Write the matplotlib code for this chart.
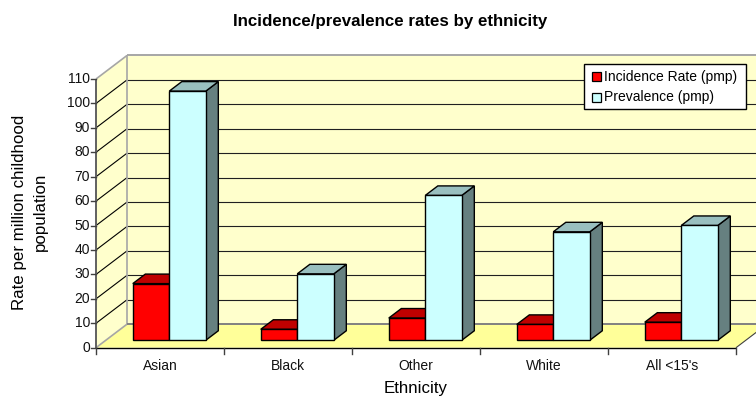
import matplotlib
matplotlib.use('Agg')
import matplotlib.pyplot as plt
from matplotlib.patches import Polygon, Rectangle

plt.rcParams['font.family'] = ['Liberation Sans', 'DejaVu Sans']

# chart data
ethnicity = ['Asian', 'Black', 'Other', 'White', "All <15's"]
incidence = [23.2, 4.5, 9.1, 6.5, 7.4]
prevalence = [102, 27.2, 59.3, 44.4, 47]
y_ticks = list(range(0, 111, 10))
series_names = ['Incidence Rate (pmp)', 'Prevalence (pmp)']

# oblique projection: how far the back wall sits from the front plane
depth_x = 31 / 128
depth_y = 9.63

fig = plt.figure(figsize=(7.56, 3.96), dpi=100)
ax = fig.add_axes([96 / 756, (396 - 347.7) / 396, 640 / 756, 268.7 / 396])
ax.set_xlim(0, 5)
ax.set_ylim(0, 110)
ax.axis('off')


def proj(x, y, d):
    return (x + d * depth_x, y + d * depth_y)


def face(points, color, edge='none', lw=0.0, z=1):
    ax.add_patch(Polygon(points, closed=True, facecolor=color, edgecolor=edge,
                         linewidth=lw, clip_on=False, zorder=z, joinstyle='miter'))


def line(a, b, color, lw, z=2):
    ax.plot([a[0], b[0]], [a[1], b[1]], color=color, lw=lw, clip_on=False,
            zorder=z, solid_capstyle='butt')


def bar3d(x0, x1, h, front, top, side, d0=0.315, d1=0.72):
    z = 5
    fbl, fbr = proj(x0, 0, d0), proj(x1, 0, d0)
    ftl, ftr = proj(x0, h, d0), proj(x1, h, d0)
    btl, btr = proj(x0, h, d1), proj(x1, h, d1)
    bbr = proj(x1, 0, d1)
    face([fbr, ftr, btr, bbr], side, 'black', 1.0, z)
    face([ftl, ftr, btr, btl], top, 'black', 1.0, z)
    face([fbl, fbr, ftr, ftl], front, 'black', 1.0, z)


def legend_rect(x0, y0, x1, y1, color, lw, z):
    # corners given in pixels from the top left of the figure
    fig.add_artist(Rectangle((x0 / 756, 1 - y1 / 396), (x1 - x0) / 756, (y1 - y0) / 396,
                             transform=fig.transFigure, facecolor=color, edgecolor='black',
                             linewidth=lw, zorder=z))


# walls and floor
wall = '#FFFFCC'
face([proj(0, 0, 1), proj(5, 0, 1), proj(5, 110, 1), proj(0, 110, 1)], wall)
face([proj(0, 0, 0), proj(0, 0, 1), proj(0, 110, 1), proj(0, 110, 0)], wall)
face([proj(0, 0, 0), proj(5, 0, 0), proj(5, 0, 1), proj(0, 0, 1)], '#FFFF99')

# gridlines run along the side wall and across the back wall
for v in y_ticks[1:-1]:
    line(proj(0, v, 0), proj(0, v, 1), 'black', 0.8)
    line(proj(0, v, 1), proj(5, v, 1), '#202020', 0.8)

line(proj(0, 110, 0), proj(0, 110, 1), '#A6A6A6', 1.2)
line(proj(0, 110, 1), proj(5, 110, 1), '#A6A6A6', 1.4)
line(proj(0, 0, 1), proj(0, 110, 1), '#A6A6A6', 1.2)
line(proj(0, 0, 0), proj(0, 0, 1), '#A6A6A6', 1.2)
line(proj(0, 0, 1), proj(5, 0, 1), '#808080', 1.4)
line(proj(5, 0, 0), proj(5, 0, 1), '#404040', 0.8)

# axes lines and ticks
line((0, 0), (5, 0), 'black', 1.0, 3)
line((0, 0), (0, 110), '#606060', 1.4, 3)
for v in y_ticks:
    ax.plot([-5 / 128, 0], [v, v], color='#404040', lw=1.0, clip_on=False, zorder=3)
    ax.text(-6 / 128, v, str(v), ha='right', va='center', fontsize=10, color='#111111')
for i in range(6):
    ax.plot([i, i], [0, -6.5 / 24.43 * 10], color='#404040', lw=1.0, clip_on=False, zorder=3)
for i, name in enumerate(ethnicity):
    ax.text(i + 0.5, -7.3, name, ha='center', va='center', fontsize=10, color='#111111')

# bars, left to right so the nearer faces overlap correctly
bar_w = 36.5 / 128
for i in range(len(ethnicity)):
    start = i + 27 / 128
    bar3d(start, start + bar_w, incidence[i], '#FF0000', '#BF0000', '#800000')
    bar3d(start + bar_w, start + 2 * bar_w, prevalence[i], '#CCFFFF', '#99BFBF', '#668080')

# titles
fig.text(390.5 / 756, 1 - 21.5 / 396, 'Incidence/prevalence rates by ethnicity',
         ha='center', va='center', fontsize=12.2, fontweight='bold')
fig.text(416 / 756, 1 - 389 / 396, 'Ethnicity', ha='center', va='center', fontsize=12.2)
fig.text(30 / 756, 1 - 212 / 396, 'Rate per million childhood\npopulation', rotation=90,
         ha='center', va='center', fontsize=12.2, linespacing=1.5, multialignment='center')

# legend box
legend_rect(583.5, 64.5, 745.5, 108.5, 'white', 1.0, 10)
legend_rect(592, 72, 601, 81, '#FF0000', 0.9, 11)
legend_rect(592, 92.5, 601, 101.5, '#CCFFFF', 0.9, 11)
fig.text(604.5 / 756, 1 - 76.5 / 396, series_names[0], ha='left', va='center', fontsize=10, zorder=11)
fig.text(604.5 / 756, 1 - 97.5 / 396, series_names[1], ha='left', va='center', fontsize=10, zorder=11)

fig.savefig('out.png', dpi=100)
